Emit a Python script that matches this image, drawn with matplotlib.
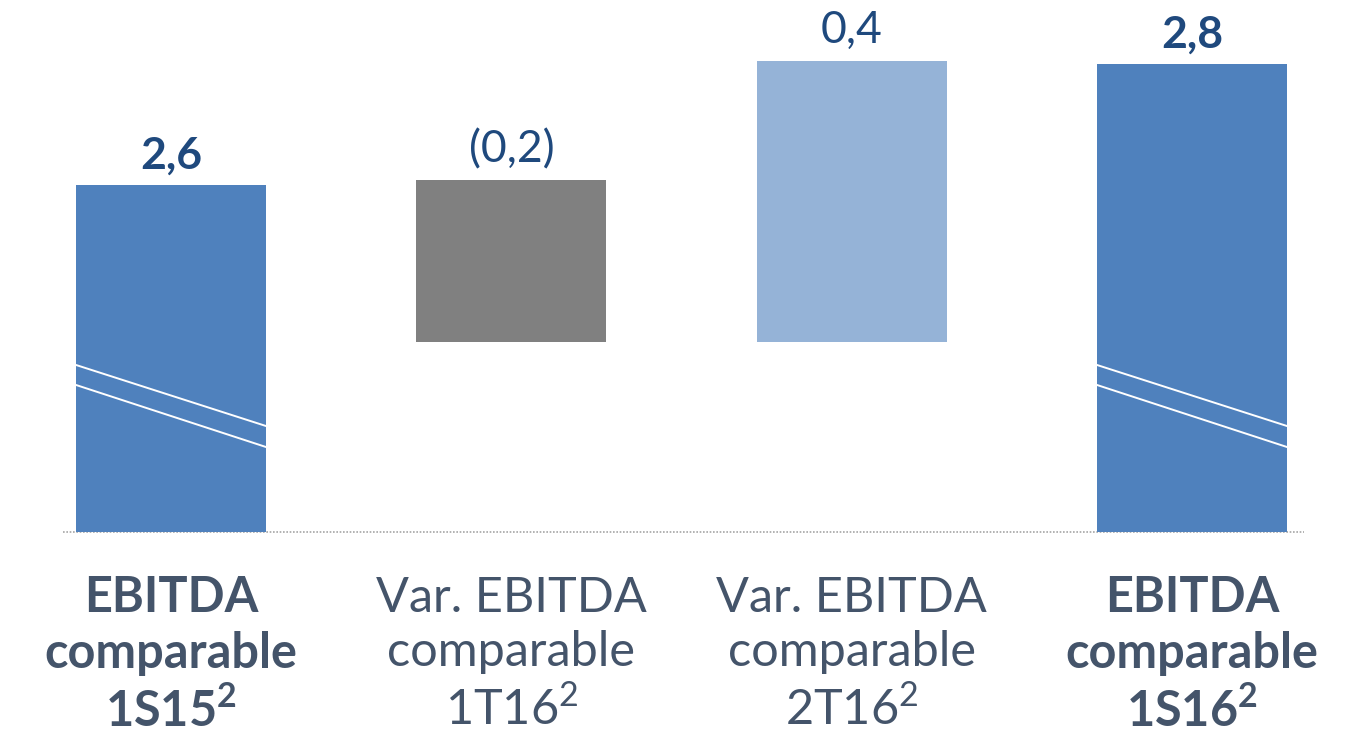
import matplotlib
matplotlib.use('Agg')
import matplotlib.pyplot as plt

# Categories and labels
categories = ['EBITDA\ncomparable\n1S15$^{\\mathbf{2}}$', 'Var. EBITDA\ncomparable\n1T16$^{2}$',
              'Var. EBITDA\ncomparable\n2T16$^{2}$', 'EBITDA\ncomparable\n1S16$^{\\mathbf{2}}$']
value_labels = ['2,6', '(0,2)', '0,4', '2,8']
bold_flags = [True, False, False, True]

# Bar extents as drawn in the picture (broken axis, arbitrary units)
bar_bottoms = [0.0, 1.90, 1.90, 0.0]
bar_tops = [3.47, 3.52, 4.71, 4.68]
bar_colors = ['#4F81BD', '#808080', '#95B3D7', '#4F81BD']

# Axis-break marks on the full bars (left and right y ends)
break_bars = [0, 3]
break_left = [1.67, 1.47]
break_right = [1.06, 0.85]

plt.rcParams['font.family'] = ['Lato', 'DejaVu Sans']
plt.rcParams['mathtext.fontset'] = 'custom'
plt.rcParams['mathtext.rm'] = 'Lato'
plt.rcParams['mathtext.bf'] = 'Lato:bold'

fig = plt.figure(figsize=(13.61, 7.33), dpi=100)
ax = fig.add_axes([0, 0, 1, 1])

x = list(range(len(categories)))
width = 0.558
heights = [t - b for t, b in zip(bar_tops, bar_bottoms)]
ax.bar(x, heights, bottom=bar_bottoms, width=width, color=bar_colors, zorder=2)

# Break marks
for i in break_bars:
    for yl, yr in zip(break_left, break_right):
        ax.plot([i - width / 2, i + width / 2], [yl, yr], color='white', lw=1.4, zorder=3)

# Dotted baseline
ax.plot([-0.318, 3.33], [0, 0], color='#A6A6A6', lw=1.2, ls=(0, (1, 1)), zorder=1)

# Value labels
for i, (lab, top, b) in enumerate(zip(value_labels, bar_tops, bold_flags)):
    ax.annotate(lab, (i, top), xytext=(0, 7), textcoords='offset points',
                ha='center', va='bottom', fontsize=32, color='#1F497D',
                fontweight='bold' if b else 'normal')

# Category labels
for i, (cat, b) in enumerate(zip(categories, bold_flags)):
    ax.text(i, -1.23, cat, ha='center', va='center', fontsize=35, color='#44546A',
            fontweight='bold' if b else 'normal', linespacing=1.28)

ax.set_xlim(-0.5025, 3.4966)
ax.set_ylim(-2.01, 5.32)
ax.axis('off')

fig.savefig('out.png', dpi=100)
